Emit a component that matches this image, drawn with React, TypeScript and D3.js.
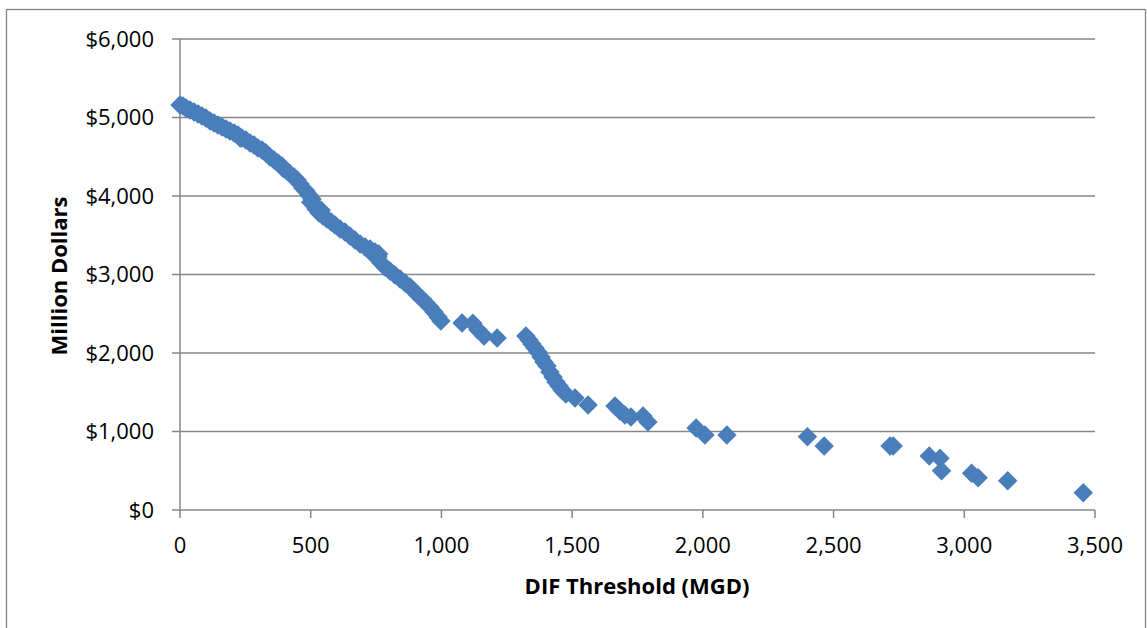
import React from "react";
import * as d3 from "d3";

const thresholdMGD: number[] = [
  0, 11, 23, 38, 54, 69, 84, 99, 115, 130, 145, 161, 176, 191, 207, 222, 237, 252, 268, 283,
  298, 314, 329, 344, 360, 375, 390, 405, 421, 436, 448, 459, 470, 482, 493, 505, 513, 520, 532, 547,
  562, 578, 593, 612, 631, 650, 669, 689, 708, 727, 746, 757, 769, 784, 803, 822, 842, 861, 880, 895,
  910, 926, 941, 956, 972, 987, 998,
  1079, 1120, 1140, 1163, 1213,
  1323, 1335, 1346, 1358, 1369, 1381, 1392, 1404, 1415, 1427, 1438, 1450, 1461, 1476, 1511, 1561,
  1664, 1683, 1702, 1725, 1771, 1790,
  1974, 2008, 2092, 2400, 2464, 2716, 2728, 2866, 2907, 2913, 3028, 3053, 3166, 3455,
  230, 395, 500, 540, 740, 760,
];

const millionDollars: number[] = [
  5160, 5146, 5121, 5096, 5070, 5045, 5019, 4994, 4955, 4930, 4905, 4879, 4854, 4828, 4803, 4777, 4739, 4713, 4675, 4650,
  4612, 4586, 4548, 4497, 4459, 4420, 4382, 4331, 4280, 4242, 4204, 4153, 4102, 4064, 4013, 3962, 3898, 3834, 3783, 3745,
  3707, 3669, 3631, 3580, 3541, 3490, 3439, 3389, 3350, 3325, 3287, 3223, 3147, 3096, 3045, 2994, 2943, 2892, 2841, 2790,
  2739, 2688, 2637, 2586, 2522, 2459, 2408,
  2382, 2380, 2293, 2217, 2191,
  2217, 2166, 2115, 2064, 2013, 1949, 1885, 1834, 1758, 1694, 1631, 1580, 1529, 1478, 1427, 1338,
  1325, 1261, 1210, 1185, 1197, 1121,
  1045, 955, 955, 934, 815, 815, 815, 688, 658, 501, 467, 411, 373, 220,
  4740, 4350, 3920, 3820, 3250, 3260,
];

const xTicks: number[] = [0, 500, 1000, 1500, 2000, 2500, 3000, 3500];
const yTicks: number[] = [0, 1000, 2000, 3000, 4000, 5000, 6000];

const xTitle = "DIF Threshold (MGD)";
const yTitle = "Million Dollars";

export default function App() {
  const W = 1147;
  const H = 628;
  const left = 180;
  const right = 1095;
  const top = 39;
  const bottom = 510;

  const x = d3.scaleLinear().domain([0, 3500]).range([left, right]);
  const y = d3.scaleLinear().domain([0, 6000]).range([bottom, top]);

  const fmtX = d3.format(",");
  const fmtY = (v: number) => "$" + d3.format(",")(v);

  const diamond = d3.symbol().type(d3.symbolSquare).size(190)() as string;

  const font = "'Open Sans', sans-serif";
  const grid = "#868686";

  const points = thresholdMGD.map((t, i) => ({ t, v: millionDollars[i] }));

  return (
    <svg
      width={W}
      height={H}
      style={{ position: "absolute", left: 0, top: 0, background: "#fff" }}
    >
      <rect x={6.5} y={9.5} width={1139} height={640} fill="#fff" stroke={grid} strokeWidth={1.3} />

      {yTicks.map((t) => (
        <g key={"y" + t}>
          <line x1={left - 8} x2={right} y1={y(t)} y2={y(t)} stroke={grid} strokeWidth={1.5} />
          <text
            x={154}
            y={y(t) + 7.5}
            textAnchor="end"
            fontFamily={font}
            fontSize={22}
            fill="#000"
          >
            {fmtY(t)}
          </text>
        </g>
      ))}

      <line x1={left} x2={left} y1={top} y2={bottom} stroke={grid} strokeWidth={1.5} />

      {xTicks.map((t) => (
        <g key={"x" + t}>
          <line x1={x(t)} x2={x(t)} y1={bottom} y2={bottom + 8} stroke={grid} strokeWidth={1.5} />
          <text
            x={x(t)}
            y={553}
            textAnchor="middle"
            fontFamily={font}
            fontSize={22}
            fill="#000"
          >
            {fmtX(t)}
          </text>
        </g>
      ))}

      {points.map((p, i) => (
        <path
          key={i}
          d={diamond}
          transform={`translate(${x(p.t)},${y(p.v)}) rotate(45)`}
          fill="#4a7ebb"
        />
      ))}

      <text
        x={637}
        y={594}
        textAnchor="middle"
        fontFamily={font}
        fontWeight="bold"
        fontSize={22}
        fill="#000"
      >
        {xTitle}
      </text>
      <text
        transform={`translate(67,276) rotate(-90)`}
        textAnchor="middle"
        fontFamily={font}
        fontWeight="bold"
        fontSize={22}
        fill="#000"
      >
        {yTitle}
      </text>
    </svg>
  );
}
